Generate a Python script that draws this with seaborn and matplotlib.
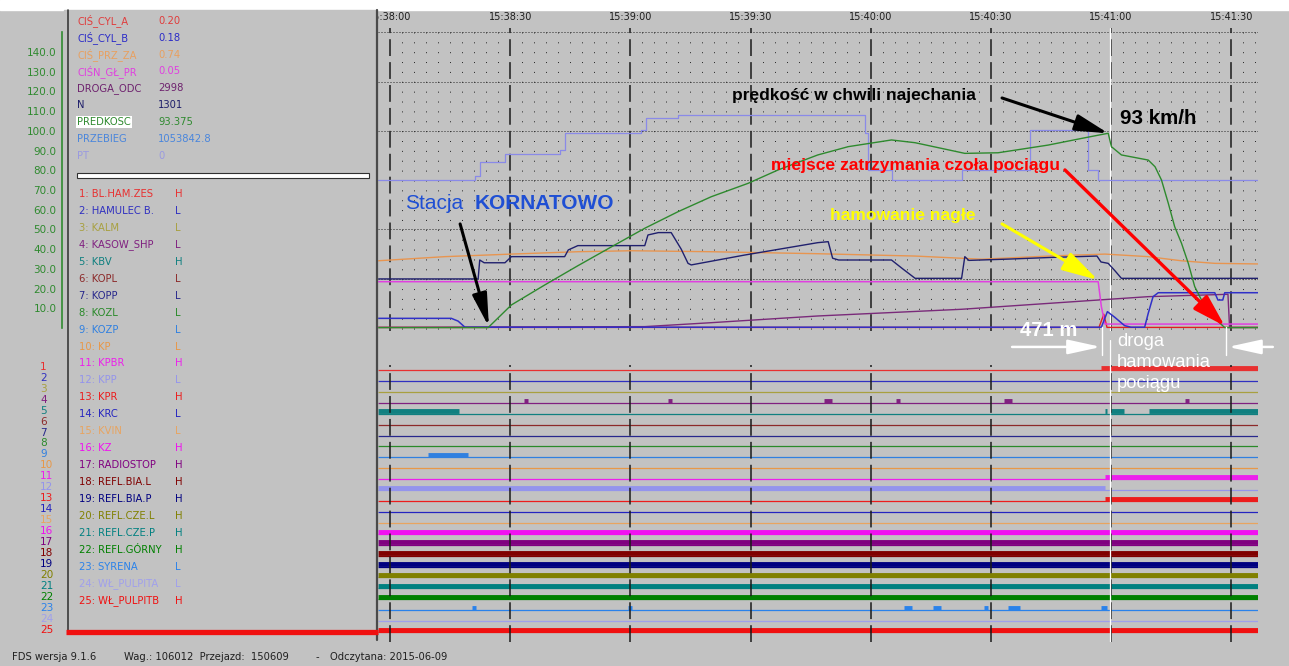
import numpy as np
import matplotlib
matplotlib.use("Agg")
import matplotlib.pyplot as plt
import matplotlib.ticker as mticker
from matplotlib.patches import Rectangle
import seaborn as sns

sns.set_theme(style="white")
plt.rcParams["font.family"] = ["DejaVu Sans"]

BG = "#c2c2c2"
W, H = 1289, 666

# --- time axis: seconds after 15:38:00 ---
T_START, T_END = -3.0, 216.7
V_MIN, V_MAX = -1.52, 152.2
CURSOR_T = 179.7

# --- analog channels (t in s, value on the 0..150 scale) ---
pt_t = [-3.0, 21.2, 22.4, 28.7, 42.4, 43.6, 62.7, 64.0, 71.9, 118.6, 119.3, 125.3,
        142.8, 159.8, 174.2, 176.7, 216.7]
pt_v = [75.1, 77.1, 84.4, 88.3, 90.3, 98.8, 100.5, 106.4, 108.1, 98.8, 80.2, 75.1,
        80.2, 100.5, 80.2, 75.1, 75.1]

spd_t = [-3.0, 24.5, 30.3, 38.6, 46.9, 55.3, 63.6, 71.9, 80.2, 89.4, 96.9, 106.8,
         114.4, 125.2, 131.1, 143.5, 151.8, 164.3, 172.7, 179.3, 180.1, 182.6, 189.3,
         191.0, 192.6, 194.3, 195.9, 197.6, 199.3, 200.9, 202.6, 204.3, 206.8, 208.4, 216.7]
spd_v = [0.2, 0.2, 11.7, 21.8, 31.6, 41.2, 50.6, 59.0, 66.6, 73.4, 80.2, 87.8,
         92.0, 95.4, 94.0, 88.6, 88.9, 92.8, 96.2, 98.8, 92.0, 87.8, 85.2,
         81.8, 75.1, 63.3, 51.4, 43.0, 32.8, 21.0, 14.2, 9.1, 3.2, 0.2, 0.2]

prz_t = [-3.0, 13.7, 30.3, 46.9, 60.3, 80.2, 106.5, 131.1, 147.7, 164.3, 178.5,
         189.3, 197.6, 205.9, 216.7]
prz_v = [34.1, 36.2, 37.5, 38.7, 39.2, 38.7, 37.7, 36.5, 34.9, 36.5, 37.5,
         36.2, 34.1, 32.8, 32.5]

n_t = [-3.0, 22.0, 22.4, 23.5, 28.7, 30.3, 43.6, 44.5, 46.9, 63.6, 64.4, 67.0, 70.2,
       72.7, 74.4, 75.2, 88.5, 106.8, 109.4, 110.5, 112.0, 125.2, 128.0, 131.1, 142.7,
       143.5, 144.5, 155.0, 165.0, 176.5, 177.5, 179.3, 181.0, 182.6, 216.7]
n_v = [24.9, 24.9, 34.5, 33.1, 33.1, 36.2, 36.2, 39.6, 41.8, 41.8, 47.2, 48.4, 48.4,
       40.0, 32.8, 32.0, 37.0, 43.3, 43.8, 35.4, 34.5, 34.5, 30.0, 25.2, 25.2,
       36.2, 34.3, 35.0, 35.8, 36.5, 33.5, 32.8, 29.0, 25.2, 25.2]

gl_t = [-3.0, 176.8, 177.6, 178.5, 216.7]
gl_v = [23.5, 23.5, 10.8, 2.0, 2.0]

cb_t = [-3.0, 15.3, 17.0, 18.7, 177.6, 179.1, 180.9, 183.4, 185.0, 188.4, 189.3,
        190.5, 191.8, 205.9, 206.7, 207.9, 208.4, 216.7]
cb_v = [4.9, 4.9, 3.5, 0.4, 0.4, 8.3, 5.5, 1.2, 0.4, 0.4, 7.5,
        15.9, 17.9, 17.9, 14.2, 14.2, 17.9, 17.9]

dr_t = [-3.0, 63.6, 80.2, 106.8, 142.7, 176.8, 189.3, 209.2, 209.6, 216.7]
dr_v = [0.3, 0.7, 2.7, 6.1, 9.5, 14.2, 15.9, 17.1, 0.3, 0.3]

ca_t = [-3.0, 177.0, 178.2, 179.0, 216.7]
ca_v = [0.3, 0.3, 7.0, 0.3, 0.3]

analog_names = ["CIŚ_CYL_A", "CIŚ_CYL_B", "CIŚ_PRZ_ZA", "CIŚN_GŁ_PR", "DROGA_ODC",
                "N", "PREDKOSC", "PRZEBIEG", "PT"]
analog_readout = ["0.20", "0.18", "0.74", "0.05", "2998", "1301", "93.375",
                  "1053842.8", "0"]
analog_colors = ["#e03c3c", "#2c2cc8", "#e8a060", "#e040e0", "#6e226e",
                 "#1e1e6a", "#2f8a2f", "#4a86dc", "#9a9ae0"]

# --- digital channels ---
dig_names = ["BL.HAM.ZES", "HAMULEC B.", "KALM", "KASOW_SHP", "KBV", "KOPL", "KOPP",
             "KOZL", "KOZP", "KP", "KPBR", "KPP", "KPR", "KRC", "KVIN", "KZ",
             "RADIOSTOP", "REFL.BIA.L", "REFL.BIA.P", "REFL.CZE.L", "REFL.CZE.P",
             "REFL.GÓRNY", "SYRENA", "WŁ_PULPITA", "WŁ_PULPITB"]
dig_states = ["H", "L", "L", "L", "H", "L", "L", "L", "L", "L", "H", "L", "H",
              "L", "L", "H", "H", "H", "H", "H", "H", "H", "L", "L", "H"]
dig_colors = ["#e83030", "#3030c0", "#a8a040", "#802080", "#108080", "#8c2a2a",
              "#28288c", "#2a8a2a", "#3080e0", "#e89848", "#ec20ec", "#9494ec",
              "#ec1c1c", "#2424c0", "#e8a460", "#f010f0", "#800080", "#800000",
              "#000080", "#808000", "#008080", "#008000", "#2a82ea", "#a0a0ec",
              "#f01010"]
FULL = [(T_START, T_END)]
dig_high = [
    [(177.5, T_END)],
    [], [],
    [(33.4, 34.4), (69.4, 70.4), (108.3, 110.4), (126.4, 127.4), (153.3, 155.4),
     (198.4, 199.4)],
    [(T_START, 17.3), (178.5, 179.1), (179.7, 183.2), (189.4, T_END)],
    [], [], [],
    [(9.4, 19.4)],
    [],
    [(178.5, T_END)],
    [(T_START, 178.5)],
    [(178.5, T_END)],
    [], [],
    FULL, FULL, FULL, FULL, FULL, FULL, FULL,
    [(20.4, 21.4), (59.5, 60.5), (128.4, 130.4), (135.5, 137.5), (148.4, 149.4),
     (154.3, 157.4), (177.5, 179.1)],
    [],
    FULL,
]

# --- figure layout in pixels ---
fig = plt.figure(figsize=(W / 100, H / 100), dpi=100, facecolor=BG)


def px_axes(x0, y0, x1, y1):
    return fig.add_axes([x0 / W, 1 - y1 / H, (x1 - x0) / W, (y1 - y0) / H])


ax = px_axes(378, 28, 1258, 331)
axd = px_axes(378, 340, 1258, 642)
axs = px_axes(62, 28, 63, 331)
axp = fig.add_axes([0, 0, 1, 1])
ax.set_zorder(2)
axd.set_zorder(1)
axp.set_zorder(5)
axp.patch.set_alpha(0)

for a in (ax, axd):
    a.set_facecolor(BG)
    for s in a.spines.values():
        s.set_visible(False)

# --- analog traces ---
def trace(t, v, color, lw, steps=False):
    sns.lineplot(x=t, y=v, ax=ax, color=color, lw=lw, estimator=None, sort=False,
                 legend=False, drawstyle="steps-post" if steps else "default")


trace(ca_t, ca_v, "#e02020", 1.0)
trace(dr_t, dr_v, "#7a2a7a", 1.0)
trace(gl_t, gl_v, "#e040e0", 1.1)
trace(prz_t, prz_v, "#e89550", 1.0)
trace(pt_t, pt_v, "#8a8ae8", 0.9, steps=True)
trace(n_t, n_v, "#20206e", 1.0)
trace(cb_t, cb_v, "#3030c8", 1.1)
trace(spd_t, spd_v, "#2e8a2e", 1.0)

ax.set_xlim(T_START, T_END)
ax.set_ylim(V_MIN, V_MAX)
ax.set_xlabel("")
ax.set_ylabel("")
ax.set_axisbelow(True)
ax.set_xticks(np.arange(0, 211, 30))
ax.set_xticks(np.arange(0, 217, 3), minor=True)
ax.set_yticks(np.arange(25, 151, 25))
ax.xaxis.set_major_formatter(mticker.FuncFormatter(
    lambda t, p: f"15:{38 + int(t) // 60:02d}:{int(t) % 60:02d}"))
ax.xaxis.tick_top()
ax.tick_params(axis="x", which="both", length=0, pad=4, labelsize=7,
               labelcolor="#1e1e1e")
ax.tick_params(axis="y", left=False, labelleft=False)
ax.grid(which="minor", axis="x", color="#2a2a2a", lw=0.72, linestyle=(7.9, (1, 8.87)))
ax.grid(which="major", axis="x", color="#1a1a1a", lw=1.1, linestyle=(0, (11, 4)))
ax.grid(which="major", axis="y", color="#2a2a2a", lw=0.72, linestyle=(0, (1, 2)))
ax.axvline(CURSOR_T, color="white", lw=0.9, zorder=1.5)

# --- green value axis on the left ---
axs.set_ylim(V_MIN, V_MAX)
axs.patch.set_alpha(0)
for k in ("top", "right", "bottom"):
    axs.spines[k].set_visible(False)
axs.spines["left"].set_color("#2f8a2f")
axs.spines["left"].set_linewidth(1.2)
axs.spines["left"].set_bounds(0, 150)
axs.set_xticks([])
axs.set_yticks(np.arange(0, 151, 10))
axs.set_yticks(np.arange(5, 150, 10), minor=True)
axs.yaxis.set_major_formatter(mticker.FuncFormatter(
    lambda v, p: "" if v < 5 or v > 145 else f"{v:.1f}"))
axs.tick_params(axis="y", which="major", length=3, width=0.8, color="#2f8a2f",
                labelcolor="#2f8a2f", labelsize=7.5, pad=1)
axs.tick_params(axis="y", which="minor", length=1.5, width=0.8, color="#2f8a2f")

# --- digital rows ---
axd.set_xlim(T_START, T_END)
axd.set_ylim(25.915, -1.748)
axd.set_xticks([])
axd.set_yticks([])
for i, col in enumerate(dig_colors):
    r = i + 1
    axd.hlines(r, T_START, T_END, color=col, lw=0.9, zorder=2)
    for a, b in dig_high[i]:
        axd.hlines(r - 0.2, a, b, color=col, lw=3.5, zorder=3)
for tk in np.arange(0, 211, 30):
    axd.axvline(tk, ymin=0.0, ymax=(642 - 365) / 302, color="#1a1a1a", lw=1.1,
                linestyle=(0, (11, 4)), zorder=4)
axd.axvline(CURSOR_T, color="white", lw=0.9, zorder=5)

# --- annotations ---
def arrow(tip, tail, color, lw, hl, hw):
    ax.annotate("", xy=tip, xytext=tail, annotation_clip=False,
                arrowprops=dict(arrowstyle=f"-|>,head_length={hl},head_width={hw}",
                                color=color, lw=lw, shrinkA=0, shrinkB=0,
                                mutation_scale=20))


bold = dict(family="Liberation Sans", fontweight="bold", clip_on=False, va="center")
ax.text(85.4, 118.0, "prędkość w chwili najechania", color="black", fontsize=12.5, **bold)
ax.text(182.3, 106.5, "93 km/h", color="black", fontsize=14.8, **bold)
ax.text(95.1, 82.2, "miejsce zatrzymania czoła pociągu", color="#ff0000",
        fontsize=12.6, **bold)
ax.text(109.8, 57.3, "hamowanie nagłe", color="#ffff00", fontsize=12.6, **bold)
ax.text(157.3, -1.3, "471 m", color="white", fontsize=14.6, **bold)
ax.text(3.8, 63.2, "Stacja", color="#1f4fd4", fontsize=15, family="Liberation Sans",
        va="center", clip_on=False)
ax.text(21.2, 63.2, "KORNATOWO", color="#1f4fd4", fontsize=15, **bold)
ax.text(181.5, -2.4, "droga\nhamowania\npociągu", color="white", fontsize=13.2,
        family="Liberation Sans", va="top", linespacing=1.3, clip_on=False)

arrow((spd_t[19], spd_v[19]), (152.8, 116.7), "black", 2.2, 1.0, 0.25)
arrow((24.7, 0.5), (17.5, 52.8), "black", 2.2, 1.0, 0.22)
arrow((176.7, 24.4), (152.8, 52.8), "#ffff00", 2.2, 1.1, 0.3)
arrow((208.4, 1.0), (168.5, 80.2), "#ff0000", 2.4, 1.0, 0.3)
arrow((177.5, -9.6), (155.3, -9.6), "white", 1.8, 1.0, 0.22)
arrow((209.2, -9.6), (220.4, -9.6), "white", 1.8, 1.0, 0.22)
for tv in (177.8, 208.7):
    ax.plot([tv, tv], [0.5, -13.7], color="white", lw=1.0, clip_on=False)

# --- left panel and frame (pixel coordinates) ---
axp.set_xlim(0, W)
axp.set_ylim(H, 0)
axp.axis("off")
axp.add_patch(Rectangle((0, 0), W, 10, color="white", zorder=0))
axp.add_patch(Rectangle((64, 10), 313, 622, color=BG, zorder=1))
axp.plot([68, 68], [10, 632], color="#3a3a3a", lw=1.2, zorder=2)
axp.plot([377, 377], [10, 640], color="#4a4a4a", lw=1.6, zorder=2)
axp.plot([66, 378], [632, 632], color="#f01010", lw=3.8, zorder=2,
         solid_capstyle="butt")
axp.add_patch(Rectangle((77, 173), 292, 5, facecolor="white", edgecolor="#303030",
                        lw=0.8, zorder=2))

small = dict(fontsize=7.2, va="center", zorder=3)
for i, (nm, rd, col) in enumerate(zip(analog_names, analog_readout, analog_colors)):
    y = 20.7 + 16.9 * i
    kw = dict(small)
    if nm == "PREDKOSC":
        kw["bbox"] = dict(facecolor="white", edgecolor="none", pad=0.6)
    axp.text(77, y, nm, color=col, **kw)
    axp.text(158, y, rd, color=col, **small)

for i, (nm, st, col) in enumerate(zip(dig_names, dig_states, dig_colors)):
    y = 194 + 16.95 * i
    axp.text(79, y, f"{i + 1}: {nm}", color=col, **small)
    axp.text(175, y, st, color=col, **small)
    axp.text(40, 366.7 + 10.97 * i, str(i + 1), color=col, fontsize=7.6,
             va="center", zorder=3)

foot = dict(fontsize=7.2, va="center", color="#202020")
axp.text(12, 657, "FDS wersja 9.1.6", **foot)
axp.text(124, 657, "Wag.: 106012  Przejazd:  150609", **foot)
axp.text(316, 657, "-", **foot)
axp.text(330, 657, "Odczytana: 2015-06-09", **foot)

fig.savefig("out.png", dpi=100, facecolor=BG)
